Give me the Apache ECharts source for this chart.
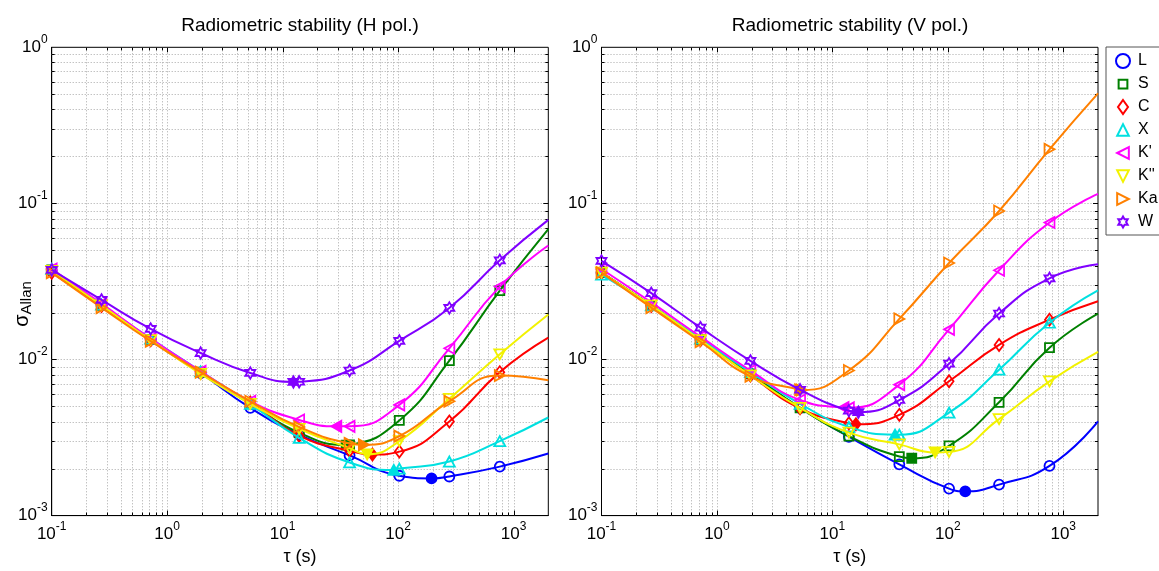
<!DOCTYPE html>
<html><head><meta charset="utf-8">
<script src="https://cdn.jsdelivr.net/npm/echarts@6/dist/echarts.min.js"></script>
<style>html,body{margin:0;padding:0;background:#fff}#c{width:1159px;height:571px}</style>
</head><body><div id="c"></div>
<script>
// ---------------- data ----------------
const TAU = [0.1, 0.27, 0.72, 1.95, 5.25, 13.9, 38, 102.5, 278, 760];
const TAU_END = 2000;
const BANDS = ['L', 'S', 'C', 'X', "K'", "K''", 'Ka', 'W'];
const X_TICKS = [0.1, 1, 10, 100, 1000];
const Y_TICKS = [0.001, 0.01, 0.1, 1];

// H polarisation (values at TAU)
const H_L  = [0.037, 0.0222, 0.0134, 0.0082, 0.0049, 0.0033, 0.00243, 0.0018, 0.00178, 0.00206];
const H_S  = [0.0375, 0.0222, 0.0134, 0.0083, 0.0052, 0.0034, 0.00284, 0.00407, 0.00984, 0.0276];
const H_C  = [0.036, 0.022, 0.0133, 0.0082, 0.0053, 0.00325, 0.0026, 0.00257, 0.00401, 0.0083];
const H_X  = [0.038, 0.0225, 0.0136, 0.0084, 0.0052, 0.00315, 0.00219, 0.002, 0.00222, 0.003];
const H_K1 = [0.038, 0.0228, 0.0136, 0.0084, 0.0054, 0.0041, 0.00373, 0.00512, 0.0118, 0.0293];
const H_K2 = [0.037, 0.0222, 0.0133, 0.0081, 0.0052, 0.0036, 0.0027, 0.003, 0.0056, 0.0108];
const H_KA = [0.036, 0.0215, 0.0131, 0.0083, 0.0054, 0.0037, 0.0029, 0.00323, 0.0054, 0.0079];
const H_W  = [0.0375, 0.0241, 0.0157, 0.011, 0.0082, 0.0072, 0.0085, 0.01316, 0.0214, 0.0432];
const H_MIN_TAU = [195, 35.5, 60, 91.8, 29.2, 54, 50.5, 12.4];
const H_MIN_VAL = [0.00173, 0.00283, 0.00246, 0.00196, 0.00373, 0.00247, 0.00284, 0.00718];
const H_END = [0.0025, 0.0685, 0.0138, 0.00425, 0.0537, 0.0194, 0.00736, 0.0784];

// V polarisation (values at TAU)
const V_L  = [0.036, 0.0222, 0.0134, 0.0081, 0.0049, 0.0032, 0.00213, 0.00149, 0.00158, 0.00208];
const V_S  = [0.036, 0.0222, 0.0134, 0.0081, 0.0049, 0.00323, 0.00239, 0.0028, 0.00532, 0.0119];
const V_C  = [0.036, 0.022, 0.0133, 0.0079, 0.00487, 0.0039, 0.00442, 0.00725, 0.0124, 0.018];
const V_X  = [0.035, 0.0222, 0.0136, 0.0083, 0.0052, 0.0037, 0.0033, 0.00457, 0.0086, 0.0172];
const V_K1 = [0.038, 0.0232, 0.014, 0.0085, 0.0055, 0.0049, 0.0069, 0.0156, 0.0373, 0.0754];
const V_K2 = [0.036, 0.0222, 0.0133, 0.0079, 0.0049, 0.0034, 0.00286, 0.00256, 0.00415, 0.00725];
const V_KA = [0.036, 0.0215, 0.013, 0.0078, 0.0064, 0.0085, 0.0182, 0.0415, 0.0894, 0.222];
const V_W  = [0.0428, 0.0266, 0.016, 0.0098, 0.0064, 0.0047, 0.0055, 0.0094, 0.0197, 0.0331];
const V_MIN_TAU = [141.6, 48.7, 16, 34.9, 12.5, 77.6, 5.43, 16.8];
const V_MIN_VAL = [0.00143, 0.00233, 0.00385, 0.0033, 0.00492, 0.00254, 0.00637, 0.0046];
const V_END = [0.00401, 0.0197, 0.0236, 0.0277, 0.115, 0.0112, 0.507, 0.0408];

const H_VALUES = [H_L, H_S, H_C, H_X, H_K1, H_K2, H_KA, H_W];
const V_VALUES = [V_L, V_S, V_C, V_X, V_K1, V_K2, V_KA, V_W];

// ---------------- styles ----------------
const COLORS = ['#0000ff', '#008000', '#ff0000', '#00e0e0', '#ff00ff', '#f2f200', '#ff8000', '#8000ff'];
const HEX = 'path://M0,-100 L28.9,-50 L86.6,-50 L57.7,0 L86.6,50 L28.9,50 L0,100 L-28.9,50 L-86.6,50 L-57.7,0 L-86.6,-50 L-28.9,-50 Z';
const SYMBOLS = ['circle', 'rect', 'diamond',
  'path://M5,0 L10,10 L0,10 Z',
  'path://M0,5 L10,0 L10,10 Z',
  'path://M0,0 L10,0 L5,10 Z',
  'path://M0,0 L10,5 L0,10 Z',
  HEX];
const SIZES = [10, 9, [9, 12], [11, 10], [10, 11], [11, 10], [10, 11], [10, 11.5]];
// legend icons (padded boxes so that marker sizes differ like the original)
const LEGEND_ICONS = [
  'circle',
  'path://M-3,-3 L-3,-3 M13,13 L13,13 M0,0 L10,0 L10,10 L0,10 Z',
  'path://M5,0 L10,7 L5,14 L0,7 Z',
  'path://M-1,-1 L-1,-1 M11,11 L11,11 M5,0 L10,10 L0,10 Z',
  'path://M-1,-1 L-1,-1 M11,11 L11,11 M0,5 L10,0 L10,10 Z',
  'path://M-1,-1 L-1,-1 M11,11 L11,11 M0,0 L10,0 L5,10 Z',
  'path://M-1,-1 L-1,-1 M11,11 L11,11 M0,0 L10,5 L0,10 Z',
  'path://M-130,-130 L-130,-130 M130,130 L130,130 M0,-100 L28.9,-50 L86.6,-50 L57.7,0 L86.6,50 L28.9,50 L0,100 L-28.9,50 L-86.6,50 L-57.7,0 L-86.6,-50 L-28.9,-50 Z'
];
const FONT = 'Liberation Sans, Arial, Helvetica, sans-serif';

function powLabel(v) {
  const l = Math.log10(v);
  const e = Math.round(l);
  if (Math.abs(l - e) > 1e-6) return '';
  return '{b|10}{e|' + e + '}';
}
const labelRich = {
  b: { fontSize: 17, fontFamily: FONT, color: '#000', lineHeight: 28 },
  e: { fontSize: 12, fontFamily: FONT, color: '#000', lineHeight: 12, verticalAlign: 'top' }
};

function makeAxisX(gi) {
  return {
    type: 'log', logBase: 10, gridIndex: gi, min: 0.1, max: TAU_END, splitNumber: 5,
    name: 'τ (s)', nameLocation: 'middle', nameGap: 30,
    nameTextStyle: { fontSize: 18, fontFamily: FONT, color: '#000' },
    axisLine: { show: true, onZero: false, lineStyle: { color: '#000', width: 1 } },
    axisTick: { show: false }, splitLine: { show: false }, minorTick: { show: false },
    axisLabel: { formatter: powLabel, rich: labelRich, margin: 5, showMaxLabel: false, hideOverlap: false }
  };
}
function makeAxisY(gi) {
  return {
    type: 'log', logBase: 10, gridIndex: gi, min: 0.001, max: 1, splitNumber: 3,
    axisLine: { show: true, onZero: false, lineStyle: { color: '#000', width: 1 } },
    axisTick: { show: false }, splitLine: { show: false },
    axisLabel: { formatter: powLabel, rich: labelRich, margin: 4 }
  };
}

// grid line / tick positions (decades x 1..9)
function gridData(xmin, xmax, ymin, ymax) {
  const out = [];
  for (let d = -4; d <= 4; d++) for (let m = 1; m <= 9; m++) {
    const v = m * Math.pow(10, d);
    if (v >= xmin * 0.999 && v <= xmax * 1.001) out.push([v, 0.01, m === 1 ? 1 : 0, 0]);
    if (v >= ymin * 0.999 && v <= ymax * 1.001) out.push([1, v, m === 1 ? 1 : 0, 1]);
  }
  return out;
}
function gridRender(params, api) {
  const cs = params.coordSys;
  const orient = api.value(3), major = api.value(2);
  const tl = major ? 5 : 3;
  const dash = { stroke: '#a8a8a8', lineWidth: 1, lineDash: [1, 2] };
  const tick = { stroke: '#000', lineWidth: 1 };
  const ch = [];
  if (orient === 0) {
    const px = Math.round(api.coord([api.value(0), 0.01])[0]) + 0.5;
    if (px > cs.x + 1.5 && px < cs.x + cs.width - 1.5) {
      ch.push({ type: 'line', shape: { x1: px, y1: cs.y, x2: px, y2: cs.y + cs.height }, style: dash });
      ch.push({ type: 'line', shape: { x1: px, y1: cs.y + cs.height, x2: px, y2: cs.y + cs.height - tl }, style: tick });
      ch.push({ type: 'line', shape: { x1: px, y1: cs.y, x2: px, y2: cs.y + tl }, style: tick });
    }
  } else {
    const py = Math.round(api.coord([1, api.value(1)])[1]) + 0.5;
    if (py > cs.y + 1.5 && py < cs.y + cs.height - 1.5) {
      ch.push({ type: 'line', shape: { x1: cs.x, y1: py, x2: cs.x + cs.width, y2: py }, style: dash });
      ch.push({ type: 'line', shape: { x1: cs.x, y1: py, x2: cs.x + tl, y2: py }, style: tick });
      ch.push({ type: 'line', shape: { x1: cs.x + cs.width, y1: py, x2: cs.x + cs.width - tl, y2: py }, style: tick });
    }
  }
  return { type: 'group', children: ch };
}

const series = [];
[0, 1].forEach(gi => {
  series.push({
    type: 'custom', xAxisIndex: gi, yAxisIndex: gi, z: 1, silent: true, clip: false,
    renderItem: gridRender, data: gridData(0.1, TAU_END, 0.001, 1)
  });
});

function bandSeries(gi, vals, minTau, minVal, ends) {
  BANDS.forEach((name, i) => {
    const c = COLORS[i];
    const pts = TAU.map((t, k) => ({ value: [t, vals[i][k]] }));
    pts.push({ value: [minTau[i], minVal[i]], itemStyle: { color: c, borderColor: c } });
    pts.push({ value: [TAU_END, ends[i]], symbol: 'none' });
    pts.sort((a, b) => a.value[0] - b.value[0]);
    series.push({
      type: 'line', name, xAxisIndex: gi, yAxisIndex: gi, data: pts,
      color: c, smooth: 0.5, clip: false, z: 2 + i * 0.01,
      symbol: SYMBOLS[i], symbolSize: SIZES[i], symbolKeepAspect: false,
      lineStyle: { color: c, width: 2 },
      itemStyle: { color: 'rgba(0,0,0,0)', borderColor: c, borderWidth: 1.8 },
      emphasis: { disabled: true }, silent: true
    });
  });
}
bandSeries(0, H_VALUES, H_MIN_TAU, H_MIN_VAL, H_END);
bandSeries(1, V_VALUES, V_MIN_TAU, V_MIN_VAL, V_END);

const option = {
  animation: false,
  backgroundColor: '#fff',
  title: [
    { text: 'Radiometric stability (H pol.)', left: 300, top: 16, textAlign: 'center', padding: 0,
      textStyle: { fontSize: 19, fontWeight: 'normal', fontFamily: FONT, color: '#000' } },
    { text: 'Radiometric stability (V pol.)', left: 850, top: 16, textAlign: 'center', padding: 0,
      textStyle: { fontSize: 19, fontWeight: 'normal', fontFamily: FONT, color: '#000' } }
  ],
  grid: [
    { left: 51.7, top: 47.3, width: 496.6, height: 475, show: true, borderColor: '#000', borderWidth: 1, backgroundColor: '#fff', containLabel: false },
    { left: 601.5, top: 47.3, width: 496.5, height: 475, show: true, borderColor: '#000', borderWidth: 1, backgroundColor: '#fff', containLabel: false }
  ],
  xAxis: [makeAxisX(0), makeAxisX(1)],
  yAxis: [makeAxisY(0), makeAxisY(1)],
  legend: {
    orient: 'vertical', left: 1106, top: 47, padding: [6, 30, 5, 9],
    itemWidth: 14, itemHeight: 14, itemGap: 7, symbolKeepAspect: true,
    borderColor: '#555', borderWidth: 1, backgroundColor: '#fff',
    textStyle: { fontSize: 16, fontFamily: FONT, color: '#000', padding: [0, 0, 0, 3] },
    selectedMode: false,
    data: BANDS.map((name, i) => ({
      name, icon: LEGEND_ICONS[i],
      itemStyle: { color: 'rgba(0,0,0,0)', borderColor: COLORS[i], borderWidth: 2 }
    }))
  },
  graphic: [{
    type: 'text', x: 22, y: 304, rotation: Math.PI / 2,
    style: {
      text: '{s|σ}{a|Allan}', align: 'center', verticalAlign: 'middle',
      rich: {
        s: { fontSize: 20, fontFamily: FONT, color: '#000', lineHeight: 24 },
        a: { fontSize: 15, fontFamily: FONT, color: '#000', verticalAlign: 'bottom', lineHeight: 15 }
      }
    }
  }],
  series
};
const chart = echarts.init(document.getElementById('c'), null, { renderer: 'canvas' });
chart.setOption(option);
</script>
</body></html>
